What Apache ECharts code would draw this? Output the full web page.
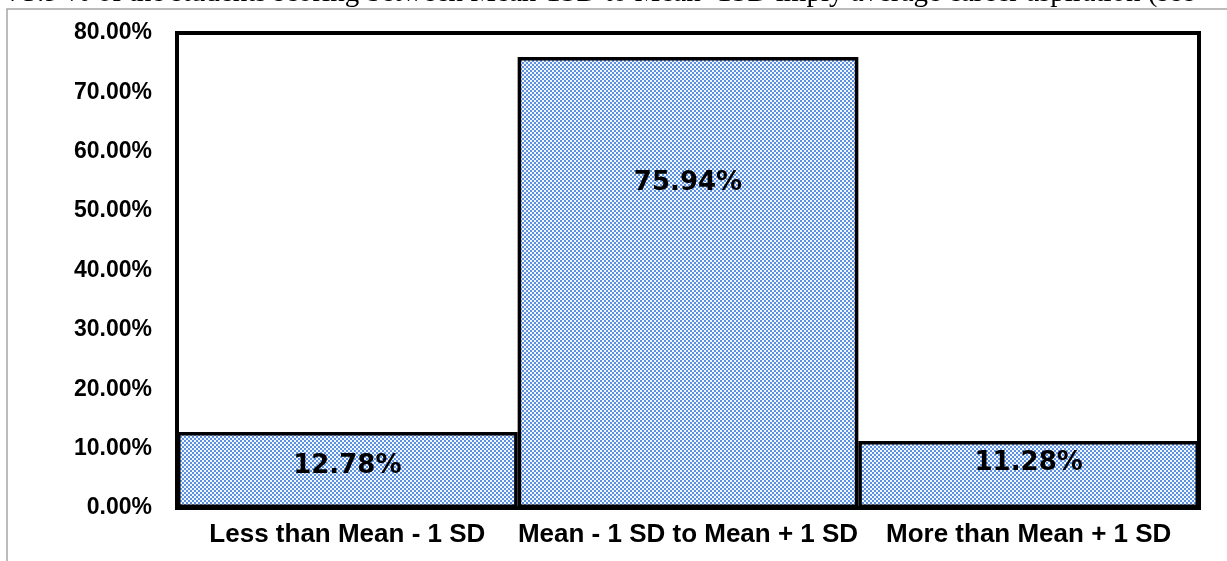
<!DOCTYPE html>
<html>
<head>
<meta charset="utf-8">
<script src="https://cdn.jsdelivr.net/npm/echarts@6/dist/echarts.min.js"></script>
<style>
  html, body { margin:0; padding:0; background:#fff; }
  #chart { width:1227px; height:561px; }
</style>
</head>
<body>
<div id="chart"></div>
<script type="text/javascript">
  // data
  var categories = ['Less than Mean - 1 SD', 'Mean - 1 SD to Mean + 1 SD', 'More than Mean + 1 SD'];
  var shares = [0.1278, 0.7594, 0.1128];
  var yTicks = [0, 0.8, 0.1]; // min, max, step
  var caption = '75.9 % of the students scoring between Mean-1SD to Mean+1SD imply average career aspiration (see';

  // blue checker fill like the office pattern
  function makePattern() {
    var c = document.createElement('canvas');
    c.width = 4; c.height = 4;
    var ctx = c.getContext('2d');
    ctx.fillStyle = '#f2f6fd';
    ctx.fillRect(0, 0, 4, 4);
    ctx.fillStyle = '#5d91e2';
    ctx.fillRect(0, 0, 2, 2);
    ctx.fillRect(2, 2, 2, 2);
    return c;
  }

  function pct(v) { return (v * 100).toFixed(2) + '%'; }

  // label spot inside each bar (relative to the bar)
  var labelSpot = [['50%', '45%'], ['50%', '28%'], ['50%', '33%']];

  var myChart = echarts.init(document.getElementById('chart'));
  myChart.setOption({
    animation: false,
    grid: {
      left: 177, top: 33, right: 28, bottom: 53,
      show: true, borderColor: '#000', borderWidth: 4, backgroundColor: 'transparent'
    },
    xAxis: {
      type: 'category',
      data: categories,
      axisLine: { show: false },
      axisTick: { show: false },
      axisLabel: {
        margin: 14, color: '#000', fontFamily: 'Liberation Sans, Arial',
        fontWeight: 'bold', fontSize: 26, interval: 0
      }
    },
    yAxis: {
      type: 'value',
      min: yTicks[0], max: yTicks[1], interval: yTicks[2],
      splitLine: { show: false },
      axisLine: { show: false },
      axisTick: { show: false },
      axisLabel: {
        margin: 25, color: '#000', fontFamily: 'Liberation Sans, Arial',
        fontWeight: 'bold', fontSize: 23, formatter: pct
      }
    },
    series: [{
      type: 'bar',
      barCategoryGap: '0%',
      data: shares.map(function (v, i) {
        return {
          value: v,
          label: { position: labelSpot[i] }
        };
      }),
      itemStyle: {
        color: { image: makePattern(), repeat: 'repeat' },
        borderColor: '#000',
        borderWidth: 3.5
      },
      label: {
        show: true,
        align: 'center',
        verticalAlign: 'middle',
        color: '#000',
        fontFamily: 'DejaVu Sans',
        fontWeight: 'bold',
        fontSize: 26,
        formatter: function (p) { return pct(p.value); }
      }
    }],
    graphic: [
      {
        type: 'text', left: 8, top: -21, silent: true,
        style: { text: caption, font: '29px "Liberation Serif", "Times New Roman", serif', fill: '#000' }
      },
      {
        type: 'polyline', silent: true,
        shape: { points: [[7, 561], [7, 9], [1227, 9]] },
        style: { stroke: '#a6a6a6', lineWidth: 1.5, fill: null }
      }
    ]
  });
</script>
</body>
</html>
